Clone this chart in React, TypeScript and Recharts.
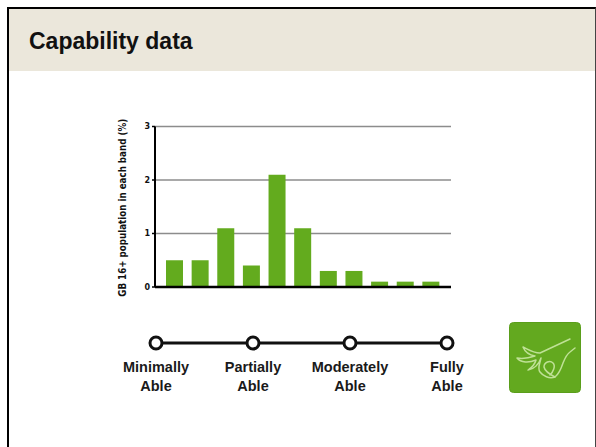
import { Bar, BarChart, CartesianGrid, Line, LineChart, XAxis, YAxis } from 'recharts';

const bands = ['1', '2', '3', '4', '5', '6', '7', '8', '9', '10', '11'];
const populationPct = [0.5, 0.5, 1.1, 0.4, 2.1, 1.1, 0.3, 0.3, 0.1, 0.1, 0.1];
const yTicks = [0, 1, 2, 3];
const gridValues = [1, 2, 3];
const scaleLabels = ['Minimally', 'Partially', 'Moderately', 'Fully'];
const scaleLevel = [1, 1, 1, 1];

const barData = bands.map((band, i) => ({ band, value: populationPct[i] }));
const scaleData = scaleLabels.map((name, i) => ({ name, level: scaleLevel[i] }));

function ScaleTick({ x, y, payload }: any) {
  return (
    <text x={x} y={y} textAnchor="middle" fontFamily="Liberation Sans" fontSize={14.5} fontWeight={700} fill="#1a1a1a">
      <tspan x={x} dy={1}>{payload.value}</tspan>
      <tspan x={x} dy={19}>Able</tspan>
    </text>
  );
}

function HandIcon() {
  return (
    <svg width={72} height={71} viewBox="0 0 72 71" style={{ position: 'absolute', left: 509, top: 322 }}>
      <rect x={0.5} y={0.5} width={71} height={70} rx={4} fill="#63a91f" stroke="#5a9e1b" />
      <g fill="none" stroke="#bfe196" strokeWidth={1.5} strokeLinecap="round" strokeLinejoin="round">
        <path d="M61 17 L31 31 C24 31 20 28 14 25 C16 30 20 33 26 34 C20 36 14 37 8 36 C12 41 20 41 27 38 C26 42 22 46 19 48 C25 47 30 42 32 36 C31 42 28 46 31 50 C34 54 40 57 46 55 C50 52 52 47 54 41 C56 36 58 32 61 30 L66 26" />
        <path d="M46 55 C42 53 36 50 35 45 C35 40 41 38 44 41 C47 44 44 50 41 53" />
      </g>
    </svg>
  );
}

export default function App() {
  return (
    <div style={{ position: 'absolute', left: 0, top: 0, width: 596, height: 447, overflow: 'hidden', background: '#fff' }}>
      {/* slide frame and header */}
      <div style={{ position: 'absolute', left: 7, top: 7, width: 589, height: 440, borderLeft: '2px solid #000', borderTop: '2px solid #000', borderRight: '1px solid #444', boxSizing: 'border-box' }} />
      <div style={{ position: 'absolute', left: 9, top: 9, width: 586, height: 62, background: '#ebe7db' }} />
      <div style={{ position: 'absolute', left: 29, top: 27, fontFamily: 'Liberation Sans', fontWeight: 700, fontSize: 23, lineHeight: '28px', color: '#111' }}>
        Capability data
      </div>

      <div style={{ position: 'absolute', left: 0, top: 0 }}>
        <BarChart width={596} height={447} data={barData} margin={{ top: 126.5, right: 145, bottom: 159, left: 115 }} barSize={17}>
          <CartesianGrid horizontalValues={gridValues} vertical={false} stroke="#8c8c8c" strokeWidth={1.5} />
          <XAxis dataKey="band" tick={false} tickLine={false} height={1} padding={{ left: 7, right: 7 }} axisLine={{ stroke: '#000', strokeWidth: 2.5 }} />
          <YAxis
            width={40}
            domain={[0, 3]}
            ticks={yTicks}
            interval={0}
            tick={{ fill: '#111', fontSize: 8, fontWeight: 700, fontFamily: 'DejaVu Sans' }}
            tickSize={3}
            tickMargin={2}
            tickLine={{ stroke: '#000', strokeWidth: 1.5 }}
            axisLine={{ stroke: '#000', strokeWidth: 2 }}
            label={{
              value: 'GB 16+ population in each band (%)',
              angle: -90,
              position: 'insideLeft',
              dx: 3,
              dy: 90,
              style: { fontFamily: 'DejaVu Sans Condensed, DejaVu Sans', fontSize: 9.7, fontWeight: 700, fill: '#111' },
            }}
          />
          <Bar dataKey="value" fill="#63ab1e" isAnimationActive={false} />
        </BarChart>
      </div>

      <div style={{ position: 'absolute', left: 0, top: 0 }}>
        <LineChart width={596} height={447} data={scaleData} margin={{ top: 323, right: 149, bottom: 44, left: 156 }}>
          <XAxis dataKey="name" height={40} interval={0} axisLine={false} tickLine={false} tick={<ScaleTick />} />
          <YAxis hide domain={[0, 2]} />
          <Line
            dataKey="level"
            stroke="#111"
            strokeWidth={3}
            isAnimationActive={false}
            dot={{ r: 6, fill: '#fff', stroke: '#111', strokeWidth: 3 }}
          />
        </LineChart>
      </div>

      <HandIcon />
    </div>
  );
}
